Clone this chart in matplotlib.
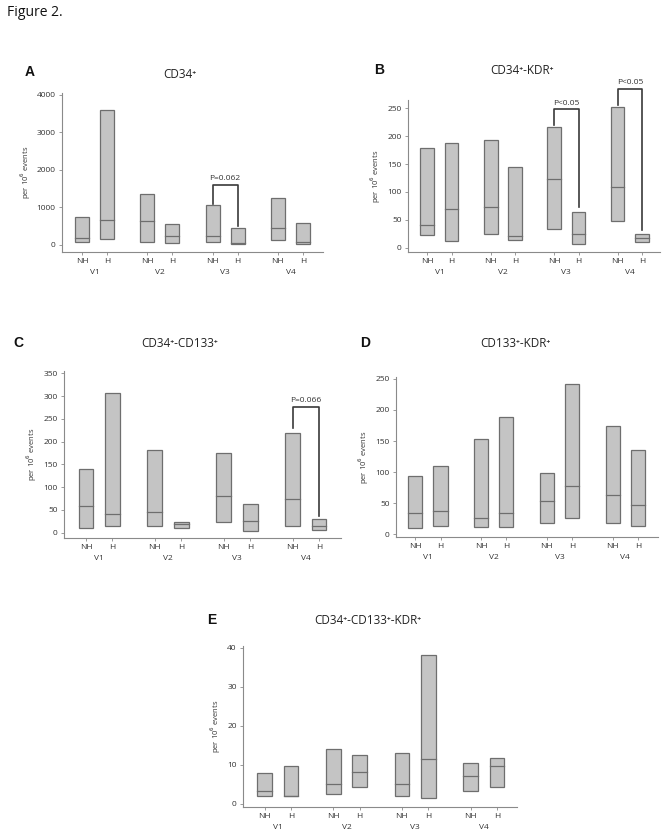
import matplotlib
matplotlib.use("Agg")
import matplotlib.pyplot as plt

plt.rcParams["font.family"] = ["Open Sans", "DejaVu Sans"]

groups = ["V1", "V2", "V3", "V4"]
conds = ["NH", "H"]

# low / median / high per box, order: V1 NH, V1 H, V2 NH, V2 H, ...
a_low = [70, 150, 70, 45, 70, 35, 125, 35]
a_med = [170, 660, 630, 230, 230, 50, 445, 70]
a_high = [740, 3600, 1350, 550, 1075, 445, 1245, 580]

b_low = [23, 11, 24, 14, 33, 7, 47, 10]
b_med = [41, 70, 73, 20, 124, 25, 109, 17]
b_high = [178, 187, 193, 144, 216, 63, 252, 25]

c_low = [11, 15, 15, 10, 24, 4, 15, 5]
c_med = [59, 42, 46, 19, 81, 26, 73, 15]
c_high = [140, 306, 182, 24, 175, 63, 219, 31]

d_low = [10, 14, 11, 11, 18, 27, 18, 13]
d_med = [35, 37, 26, 35, 53, 77, 63, 47]
d_high = [94, 110, 153, 188, 98, 241, 174, 136]

e_low = [2.1, 2.1, 2.6, 4.4, 2.1, 1.6, 3.2, 4.4]
e_med = [3.2, 2.1, 5.2, 8.1, 5.2, 11.6, 7.2, 9.6]
e_high = [7.8, 9.6, 14.1, 12.6, 13.1, 38, 10.6, 11.8]

FILL = "#c4c4c4"
EDGE = "#6e6e6e"
SPINE = "#8a8a8a"
GAP = 2.6
W = 0.56


def px_rect(left, right, bottom, top):
    return [left / 671, 1 - bottom / 838, (right - left) / 671, (bottom - top) / 838]


def draw_panel(fig, rect, lows, meds, highs, title, letter, title_xy, letter_xy,
               ylim, yticks, xlim):
    ax = fig.add_axes(rect)
    pos = []
    for g in range(len(groups)):
        for c in range(len(conds)):
            pos.append(g * GAP + c)
    heights = [h - l for l, h in zip(lows, highs)]
    ax.bar(pos, heights, bottom=lows, width=W, color=FILL, edgecolor=EDGE,
           linewidth=0.9, zorder=2)
    for p, m in zip(pos, meds):
        ax.plot([p - W / 2, p + W / 2], [m, m], color=EDGE, lw=0.9, zorder=3)

    ax.set_xlim(*xlim)
    ax.set_ylim(*ylim)
    ax.set_yticks(yticks)
    ax.set_xticks(pos)
    ax.set_xticklabels(conds * len(groups))
    for s in ["top", "right"]:
        ax.spines[s].set_visible(False)
    for s in ["left", "bottom"]:
        ax.spines[s].set_color(SPINE)
        ax.spines[s].set_linewidth(0.8)
    ax.tick_params(axis="both", colors=SPINE, labelcolor="#333333", labelsize=6,
                   length=2.5, width=0.6, pad=2)
    ax.set_ylabel("per 10$^6$ events", fontsize=5.5, color="#333333", labelpad=3)

    for g, name in enumerate(groups):
        ax.annotate(name, xy=(g * GAP + 0.5, 0), xycoords=("data", "axes fraction"),
                    xytext=(0, -14.5), textcoords="offset points",
                    ha="center", va="center", fontsize=6, color="#333333")

    fig.text(title_xy[0] / 671, 1 - title_xy[1] / 838, title, ha="center",
             va="center", fontsize=8.5, color="#222222")
    fig.text(letter_xy[0] / 671, 1 - letter_xy[1] / 838, letter, ha="center",
             va="center", fontsize=10, fontweight="bold", color="#111111",
             family=["Liberation Sans", "DejaVu Sans"])
    return ax, pos


def bracket(ax, x0, x1, y0, ytop, y1, label, label_y):
    ax.plot([x0, x0, x1, x1], [y0, ytop, ytop, y1], color="#3a3a3a", lw=1.2,
            clip_on=False, zorder=4)
    ax.text((x0 + x1) / 2, label_y, label, ha="center", va="center",
            fontsize=6, color="#333333", clip_on=False)


fig = plt.figure(figsize=(6.71, 8.38), dpi=100)
fig.text(7 / 671, 1 - 13 / 838, "Figure 2.", ha="left", va="center",
         fontsize=10, color="#111111")

# A
ax, pos = draw_panel(fig, px_rect(62, 323, 252, 93), a_low, a_med, a_high,
                     "CD34⁺", "A", (180, 75), (30, 72),
                     (-190, 4050), [0, 1000, 2000, 3000, 4000], (-0.8, 9.6))
bracket(ax, pos[4], pos[5], 1100, 1600, 490, "P=0.062", 1760)

# B
ax, pos = draw_panel(fig, px_rect(408, 660, 252, 100), b_low, b_med, b_high,
                     "CD34⁺-KDR⁺", "B", (522, 70), (379, 70),
                     (-8, 265), [0, 50, 100, 150, 200, 250], (-0.79, 9.54))
bracket(ax, pos[4], pos[5], 220, 249, 72, "P<0.05", 259)
bracket(ax, pos[6], pos[7], 256, 285, 31, "P<0.05", 296)

# C
ax, pos = draw_panel(fig, px_rect(64, 341, 538, 371), c_low, c_med, c_high,
                     "CD34⁺-CD133⁺", "C", (180, 343), (18, 343),
                     (-11.5, 355), [0, 50, 100, 150, 200, 250, 300, 350],
                     (-0.83, 9.63))
bracket(ax, pos[6], pos[7], 229, 275, 37, "P=0.066", 290)

# D
draw_panel(fig, px_rect(396, 658, 537, 377), d_low, d_med, d_high,
           "CD133⁺-KDR⁺", "D", (515, 343), (365, 343),
           (-4.3, 253), [0, 50, 100, 150, 200, 250], (-0.76, 9.59))

# E
draw_panel(fig, px_rect(243, 517, 807, 646), e_low, e_med, e_high,
           "CD34⁺-CD133⁺-KDR⁺", "E", (368, 620), (212, 620),
           (-0.77, 40.4), [0, 10, 20, 30, 40], (-0.82, 9.56))

fig.savefig("out.png", dpi=100)
